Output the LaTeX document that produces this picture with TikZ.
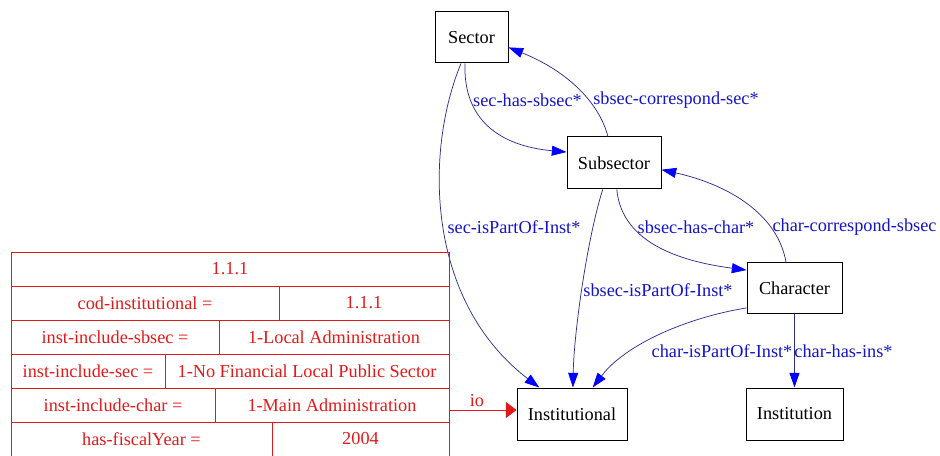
\documentclass[tikz,border=0pt]{standalone}
\usepackage{fontspec}
\setmainfont{Liberation Serif}
\usetikzlibrary{arrows.meta}

\definecolor{edgeblue}{RGB}{45,45,140}
\definecolor{labelblue}{RGB}{20,20,200}
\definecolor{tabred}{RGB}{225,25,25}

\tikzset{every picture/.style={line width=0.75pt}}
\tikzset{
	classbox/.style={draw, fill=white, inner sep=0pt, font=\fontsize{13.7}{16}\selectfont},
	reledge/.style={draw=edgeblue, line width=0.55pt, -{Triangle[length=11pt,width=7.5pt,color=blue]}},
	rellabel/.style={text=labelblue, inner sep=1pt, font=\fontsize{13.7}{16}\selectfont},
	tabline/.style={draw=tabred, line width=0.7pt},
	tabtext/.style={text=tabred, inner sep=0pt, font=\fontsize{13.7}{16}\selectfont},
	ioarrow/.style={draw=tabred, line width=0.7pt, -{Triangle[length=8pt,width=12pt,color=tabred]}}}

\begin{document}
\begin{tikzpicture}[x=0.75pt,y=0.75pt,yscale=-1,xscale=1]
	\useasboundingbox (0,0) rectangle (940,456);

	% Shape: Rectangle (class boxes)
	\node[classbox, minimum width=54.75pt, minimum height=38.25pt] (sector) at (471.5,37.5) {Sector};
	\node[classbox, minimum width=70.5pt, minimum height=39pt] (subsector) at (614,163) {Subsector};
	\node[classbox, minimum width=71.25pt, minimum height=38.25pt] (character) at (794.5,288.5) {Character};
	\node[classbox, minimum width=72.75pt, minimum height=39pt] (institution) at (794.5,414) {Institution};
	\node[classbox, minimum width=82.5pt, minimum height=39pt] (institutional) at (572,414) {Institutional};

	% Curve Lines
	\draw[reledge] (sector.-104) .. controls (463,120) and (500,146) .. (subsector.167);
	\draw[reledge] (subsector.103) .. controls (600,105) and (570,72) .. (sector.-15);
	\draw[reledge] (sector.-112) .. controls (425,150) and (425,300) .. (institutional.141);
	\draw[reledge] (subsector.-113) .. controls (588,235) and (574,330) .. (institutional.88);
	\draw[reledge] (subsector.-84) .. controls (622,245) and (685,262) .. (character.159);
	\draw[reledge] (character.108) .. controls (778,215) and (730,185) .. (subsector.-8);
	\draw[reledge] (character.-158) .. controls (685,318) and (625,345) .. (institutional.52);
	% Straight Lines
	\draw[reledge] (character) -- (institution);

	% Text Node
	\node[rellabel] (lsechas) at (527.5,100) {sec-has-sbsec*};
	% Text Node
	\node[rellabel] (lsbseccorr) at (676,100) {sbsec-correspond-sec*};
	% Text Node
	\node[rellabel] (lsecpart) at (514,227) {sec-isPartOf-Inst*};
	% Text Node
	\node[rellabel] (lsbsechas) at (696,227) {sbsec-has-char*};
	% Text Node
	\node[rellabel] (lcharcorr) at (854.5,227) {char-correspond-sbsec};
	% Text Node
	\node[rellabel] (lsbsecpart) at (658,290) {sbsec-isPartOf-Inst*};
	% Text Node
	\node[rellabel] (lcharpart) at (722,351) {char-isPartOf-Inst*};
	% Text Node
	\node[rellabel] (lcharhas) at (843.5,351) {char-has-ins*};

	% Shape: Rectangle (record table)
	\draw[tabline] (11,252) rectangle (449,286);
	\draw[tabline] (11,286) rectangle (279,320);
	\draw[tabline] (279,286) rectangle (449,320);
	\draw[tabline] (11,320) rectangle (219,354);
	\draw[tabline] (219,320) rectangle (449,354);
	\draw[tabline] (11,354) rectangle (165,388);
	\draw[tabline] (165,354) rectangle (449,388);
	\draw[tabline] (11,388) rectangle (215,422);
	\draw[tabline] (215,388) rectangle (449,422);
	\draw[tabline] (11,422) rectangle (272,458);
	\draw[tabline] (272,422) rectangle (449,458);

	% Text Node
	\node[tabtext] (tabhead) at (230,269) {1.1.1};
	\node[tabtext] (tabcodkey) at (145,303) {cod-institutional =};
	\node[tabtext] (tabcodval) at (364,303) {1.1.1};
	\node[tabtext] (tabsbseckey) at (115,337) {inst-include-sbsec =};
	\node[tabtext] (tabsbsecval) at (334,337) {1-Local Administration};
	\node[tabtext] (tabseckey) at (88,371) {inst-include-sec =};
	\node[tabtext] (tabsecval) at (307,371) {1-No Financial Local Public Sector};
	\node[tabtext] (tabcharkey) at (113,405) {inst-include-char =};
	\node[tabtext] (tabcharval) at (332,405) {1-Main Administration};
	\node[tabtext] (tabyearkey) at (141.5,439) {has-fiscalYear =};
	\node[tabtext] (tabyearval) at (360.5,439) {2004};

	% Straight Lines (io)
	\coordinate (tabio) at (449,410);
	\draw[ioarrow] (tabio) -- (tabio -| institutional.west);
	% Text Node
	\node[tabtext] (lio) at (477,401) {io};

\end{tikzpicture}
\end{document}
